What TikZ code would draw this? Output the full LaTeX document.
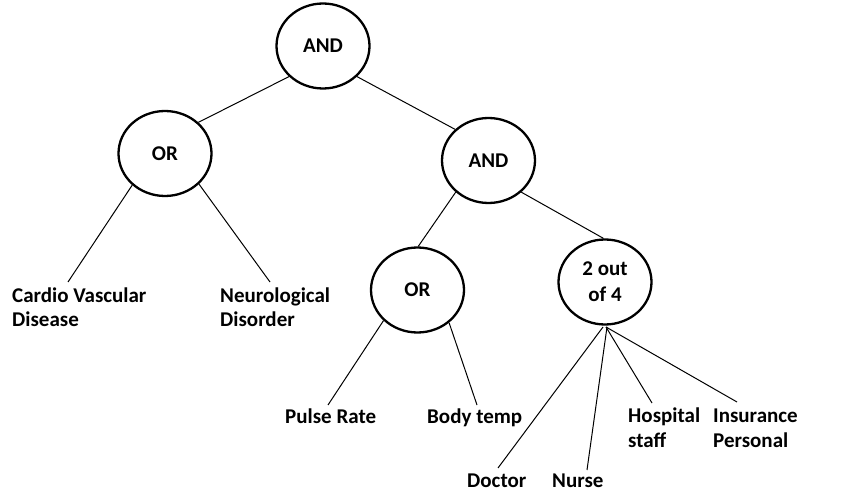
\documentclass[tikz,border=0pt]{standalone}
\usepackage{fontspec}
\setmainfont{Carlito}
\usetikzlibrary{shapes.geometric}
\tikzset{
  gate/.style={ellipse, draw, line width=2.3pt, minimum width=93pt, minimum height=85pt,
    inner sep=0pt, align=center, font=\fontsize{21}{26}\selectfont\bfseries},
  leaf/.style={inner sep=0pt, anchor=base west, align=left,
    font=\fontsize{21}{24.5}\selectfont\bfseries},
  link/.style={line width=1pt}
}
\begin{document}
\begin{tikzpicture}[x=1pt,y=-1pt]
\useasboundingbox[fill=white] (0,0) rectangle (849,494);
% gates
\node[gate] (and1) at (323,46) {AND};
\node[gate] (or1) at (165,153.5) {OR};
\node[gate] (and2) at (488.5,160.5) {AND};
\node[gate] (or2) at (417.5,290) {OR};
\node[gate] (kofn) at (605,282) {2 out\\of 4};
% leaves (base anchor = baseline of the last line)
\node[leaf] (cardio) at (12,327) {Cardio Vascular\\Disease};
\node[leaf] (neuro) at (220,327) {Neurological\\Disorder};
\node[leaf] (pulse) at (285,423) {Pulse Rate};
\node[leaf] (body) at (427,423) {Body temp};
\node[leaf] (doctor) at (467,487) {Doctor};
\node[leaf] (nurse) at (552,487) {Nurse};
\node[leaf] (hosp) at (628,447) {Hospital\\staff};
\node[leaf] (ins) at (713,447) {Insurance\\Personal};
% connector tips above the leaf labels
\coordinate (cardioTip) at (68,282);
\coordinate (neuroTip) at (270,282);
\coordinate (pulseTip) at (328,405);
\coordinate (bodyTip) at (477,405);
\coordinate (doctorTip) at (498,468);
\coordinate (nurseTip) at (587,470);
\coordinate (hospTip) at (652,403);
\coordinate (insTip) at (737,402);
\coordinate (kofnFoot) at (605,327);
% connectors
\draw[link] (and1.222) -- (or1.43);
\draw[link] (and1.318.5) -- (and2.137.7);
\draw[link] (or1.224.6) -- (cardioTip);
\draw[link] (or1.318) -- (neuroTip);
\draw[link] (and2.224) -- (or2.89);
\draw[link] (and2.316.7) -- (kofn.92);
\draw[link] (or2.222.9) -- (pulseTip);
\draw[link] (or2.314.6) -- (bodyTip);
\draw[link] ([xshift=-2pt]kofnFoot) -- (doctorTip);
\draw[link] ([xshift=2pt]kofnFoot) -- (nurseTip);
\draw[link] ([xshift=1pt]kofnFoot) -- (hospTip);
\draw[link] ([xshift=1pt]kofnFoot) -- (insTip);
\end{tikzpicture}
\end{document}
